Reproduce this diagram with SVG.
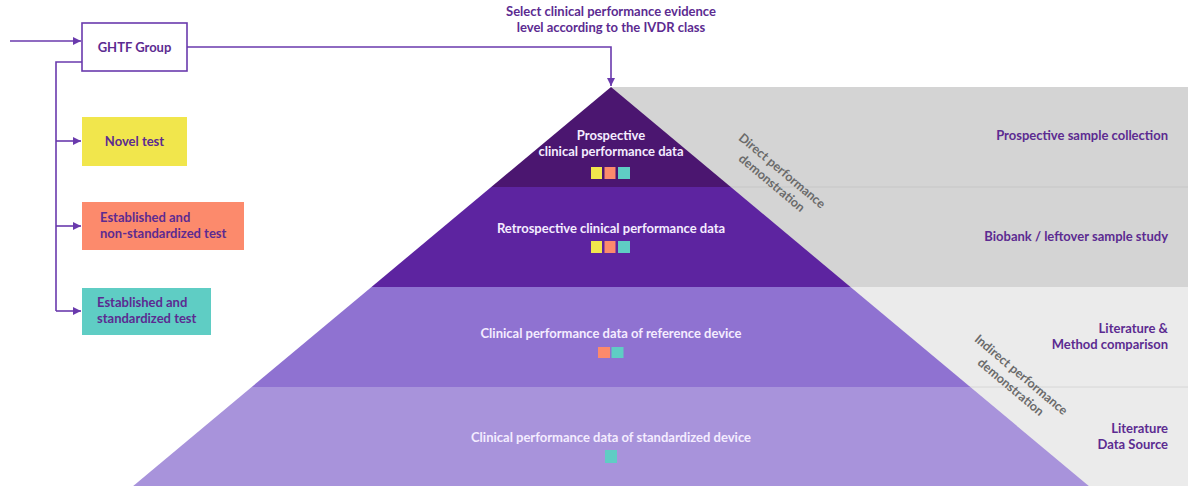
<svg xmlns="http://www.w3.org/2000/svg" width="1190" height="490" viewBox="0 0 1190 490">
<defs>
<marker id="ah" viewBox="0 0 8 8" refX="8" refY="4" markerWidth="8" markerHeight="8" markerUnits="userSpaceOnUse" orient="auto">
<path d="M0,0 L8,4 L0,8 Z" fill="#6a3aad"/>
</marker>
<style>
.t{font-family:"Lato","Liberation Sans",sans-serif;font-weight:700;font-size:13px;fill:#5c2b91}
.w{font-family:"Lato","Liberation Sans",sans-serif;font-weight:700;font-size:13px;fill:#f4ecff;text-anchor:middle}
.g{font-family:"Lato","Liberation Sans",sans-serif;font-weight:700;font-size:12.5px;fill:#6a6a6a;text-anchor:middle}
.r{text-anchor:end}
.m{text-anchor:middle}
.c{fill:none;stroke:#6a3aad;stroke-width:1.6}
.box{stroke:none}
</style>
</defs>
<rect width="1190" height="490" fill="#ffffff"/>
<g id="background">
<rect x="611" y="87" width="577" height="200" fill="#d4d4d4"/>
<rect x="611" y="287" width="577" height="199" fill="#ebebeb"/>
<line x1="611" y1="187" x2="1188" y2="187" stroke="#c6c6c6" stroke-width="1"/>
<line x1="611" y1="387" x2="1188" y2="387" stroke="#d6d6d6" stroke-width="1"/>
</g>
<g id="pyramid">
<polygon points="611,87 730.8,187 491.2,187" fill="#4b1670"/>
<polygon points="491.2,187 730.8,187 850.5,287 371.5,287" fill="#5d24a0"/>
<polygon points="371.5,287 850.5,287 970.3,387 251.7,387" fill="#8f72d1"/>
<polygon points="251.7,387 970.3,387 1088.8,486 133.2,486" fill="#a893db"/>
</g>
<g id="connectors">
<line class="c" x1="10" y1="41" x2="81" y2="41" marker-end="url(#ah)"/>
<polyline class="c" points="187,47 611,47 611,86" marker-end="url(#ah)"/>
<polyline class="c" points="82,62 56,62 56,311"/>
<line class="c" x1="56" y1="141" x2="81" y2="141" marker-end="url(#ah)"/>
<line class="c" x1="56" y1="226" x2="81" y2="226" marker-end="url(#ah)"/>
<line class="c" x1="56" y1="311" x2="81" y2="311" marker-end="url(#ah)"/>
</g>
<g id="ghtf">
<rect x="82" y="23" width="105" height="48" fill="#ffffff" stroke="#6a3aad" stroke-width="1.6"/>
<text class="t m" x="134.5" y="51.5">GHTF Group</text>
</g>
<g id="novel">
<rect class="box" x="82" y="117" width="105" height="49" fill="#f1e64c"/>
<text class="t m" x="134.5" y="145.5">Novel test</text>
</g>
<g id="nonstd">
<rect class="box" x="82" y="202" width="162" height="48" fill="#fc8a6c"/>
<text class="t" x="100" y="222">Established and</text>
<text class="t" x="100" y="238">non-standardized test</text>
</g>
<g id="std">
<rect class="box" x="82" y="288" width="129" height="47" fill="#5fcdc4"/>
<text class="t" x="97" y="307">Established and</text>
<text class="t" x="97" y="323">standardized test</text>
</g>
<g id="title">
<text class="t m" x="611" y="16">Select clinical performance evidence</text>
<text class="t m" x="611" y="32">level according to the IVDR class</text>
</g>
<g id="level1">
<text class="w" x="611" y="140">Prospective</text>
<text class="w" x="611" y="156">clinical performance data</text>
<rect x="591" y="167" width="11" height="12" fill="#f1e64c"/>
<rect x="604.5" y="167" width="11" height="12" fill="#fc8a6c"/>
<rect x="618" y="167" width="12" height="12" fill="#5fcdc4"/>
</g>
<g id="level2">
<text class="w" x="611" y="233">Retrospective clinical performance data</text>
<rect x="591" y="241" width="11" height="12" fill="#f1e64c"/>
<rect x="604.5" y="241" width="11" height="12" fill="#fc8a6c"/>
<rect x="618" y="241" width="12" height="12" fill="#5fcdc4"/>
</g>
<g id="level3">
<text class="w" x="611" y="338">Clinical performance data of reference device</text>
<rect x="598" y="347" width="12" height="11" fill="#fc8a6c"/>
<rect x="611.5" y="347" width="12" height="11" fill="#5fcdc4"/>
</g>
<g id="level4">
<text class="w" x="611" y="442">Clinical performance data of standardized device</text>
<rect x="605" y="450" width="12" height="13" fill="#5fcdc4"/>
</g>
<g id="direct">
<g transform="translate(782,171) rotate(40)">
<text class="g" x="0" y="4">Direct performance</text>
<text class="g" x="0" y="20">demonstration</text>
</g>
</g>
<g id="indirect">
<g transform="translate(1021,375) rotate(40)">
<text class="g" x="0" y="4">Indirect performance</text>
<text class="g" x="0" y="20">demonstration</text>
</g>
</g>
<g id="sources">
<text class="t r" x="1168" y="140">Prospective sample collection</text>
<text class="t r" x="1168" y="241">Biobank / leftover sample study</text>
<text class="t r" x="1168" y="333">Literature &amp;</text>
<text class="t r" x="1168" y="349">Method comparison</text>
<text class="t r" x="1168" y="433">Literature</text>
<text class="t r" x="1168" y="449">Data Source</text>
</g>
</svg>
